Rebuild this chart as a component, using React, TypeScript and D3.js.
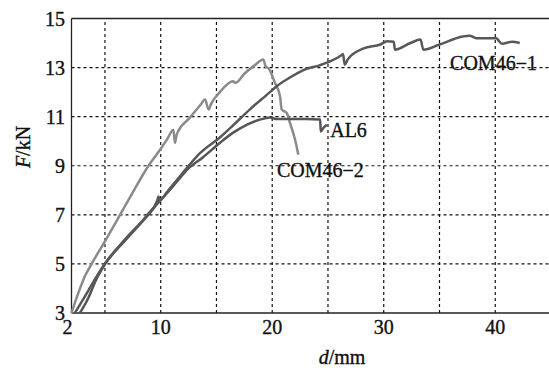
import React, { useEffect } from "react";
import * as d3 from "d3";

// [d (mm), F (kN)]
const com46_1: [number, number][] = [
  [2.3, 3.0], [3.1, 3.6], [4.0, 4.3], [5.0, 5.02], [6.9, 6.05], [8.8, 7.0],
  [9.7, 7.6], [9.8, 7.75], [9.9, 7.6], [10.6, 7.95], [11.5, 8.45], [12.6, 9.05],
  [13.5, 9.5], [15.3, 10.15], [16.5, 10.65], [18.0, 11.3], [19.8, 12.0],
  [20.4, 12.24], [21.6, 12.6], [22.8, 12.9], [24.3, 13.1], [24.9, 13.2],
  [26.2, 13.5], [26.35, 13.55], [26.5, 13.12], [26.8, 13.35], [28.2, 13.78],
  [29.7, 13.94], [30.3, 14.07], [30.9, 14.05], [31.0, 13.73], [32.4, 14.0],
  [33.3, 14.14], [33.55, 13.73], [35.0, 13.94], [37.1, 14.27], [37.7, 14.3],
  [38.3, 14.2], [40.1, 14.2], [40.3, 14.1], [40.6, 13.97], [41.5, 14.05],
  [42.2, 14.0],
];

const com46_2: [number, number][] = [
  [2.0, 3.0], [2.6, 3.8], [3.2, 4.5], [3.8, 5.0], [5.1, 6.0], [6.35, 7.0],
  [7.6, 8.0], [8.9, 9.0], [9.94, 9.65], [10.6, 10.1], [11.13, 10.47],
  [11.28, 9.93], [11.43, 10.27], [12.6, 10.95], [13.6, 11.5], [13.97, 11.7],
  [14.3, 11.29], [14.5, 11.5], [15.3, 12.0], [16.5, 12.44], [16.7, 12.38],
  [17.5, 12.75], [18.45, 13.1], [19.2, 13.33], [19.4, 13.06], [19.7, 12.95],
  [20.25, 12.37], [20.7, 11.83], [20.85, 11.29], [21.3, 11.15], [21.6, 10.74],
  [22.05, 10.06], [22.34, 9.45],
];

const al6: [number, number][] = [
  [2.75, 3.0], [3.5, 3.6], [4.2, 4.35], [5.0, 4.98], [6.9, 6.0], [8.8, 6.95],
  [9.7, 7.45], [10.6, 7.9], [11.5, 8.38], [12.4, 8.85], [13.8, 9.35],
  [15.3, 9.93], [16.5, 10.35], [17.7, 10.67], [18.9, 10.88], [19.8, 10.97],
  [20.4, 10.9], [21.5, 10.9], [23.0, 10.9], [24.3, 10.88], [24.35, 10.4],
  [24.6, 10.55], [24.9, 10.67],
];

const xTicks = [2, 10, 20, 30, 40];
const xGrid = [5, 10, 15, 20, 25, 30, 35, 40];
const yTicks = [3, 5, 7, 9, 11, 13, 15];
const yGrid = [5, 7, 9, 11, 13];

const labels = [
  { text: "COM46\u22121", d: 35.95, f: 12.9 },
  { text: "AL6", d: 25.2, f: 10.18 },
  { text: "COM46\u22122", d: 20.43, f: 8.55 },
];

const W = 549;
const H = 370;
const font = "'Liberation Serif', 'Times New Roman', serif";

export default function App() {
  useEffect(() => {
    document.body.style.margin = "0";
  }, []);

  const x = d3.scaleLinear().domain([2, 45]).range([71.5, 551]);
  const y = d3.scaleLinear().domain([3, 15]).range([313, 18.5]);
  const line = d3
    .line<[number, number]>()
    .x((p) => x(p[0]))
    .y((p) => y(p[1]))
    .curve(d3.curveMonotoneX);

  const [x0, x1] = x.range();
  const [y0, y1] = y.range();
  const textProps = { fontFamily: font, fontSize: 20, fill: "#111", stroke: "#111", strokeWidth: 0.35 };

  return (
    <svg width={W} height={H} style={{ display: "block", background: "#fff" }}>
      {/* grid */}
      {xGrid.map((v) => (
        <line key={"gx" + v} x1={x(v)} x2={x(v)} y1={y0} y2={y1}
          stroke="#111" strokeWidth={1.2} strokeDasharray="3,3" />
      ))}
      {yGrid.map((v) => (
        <line key={"gy" + v} x1={x0} x2={x1} y1={y(v)} y2={y(v)}
          stroke="#111" strokeWidth={1.2} strokeDasharray="3,3" />
      ))}
      {/* frame */}
      <line x1={x0} x2={x1} y1={y1} y2={y1} stroke="#222" strokeWidth={1.3} />
      <line x1={x0} x2={x1} y1={y0} y2={y0} stroke="#222" strokeWidth={1.3} />
      <line x1={x0} x2={x0} y1={y0} y2={y1} stroke="#222" strokeWidth={1.3} />

      {/* curves */}
      <path d={line(com46_2) ?? ""} fill="none" stroke="#8a8a8a" strokeWidth={2.5} strokeLinejoin="round" />
      <path d={line(al6) ?? ""} fill="none" stroke="#555" strokeWidth={2.5} strokeLinejoin="round" />
      <path d={line(com46_1) ?? ""} fill="none" stroke="#585858" strokeWidth={2.5} strokeLinejoin="round" />

      {/* tick labels */}
      {yTicks.map((v) => (
        <text key={"ty" + v} x={65} y={y(v)} dy="0.35em" textAnchor="end" {...textProps}>{v}</text>
      ))}
      {xTicks.map((v) => (
        <text key={"tx" + v} x={x(v) - (v === 2 ? 4 : 0)} y={334} textAnchor="middle" {...textProps}>{v}</text>
      ))}

      {/* series labels */}
      {labels.map((l) => (
        <text key={l.text} x={x(l.d)} y={y(l.f)} {...textProps}>
          {l.text}
        </text>
      ))}

      {/* axis titles */}
      <text x={342} y={364} textAnchor="middle" {...textProps}>
        <tspan fontStyle="italic">d</tspan>/mm
      </text>
      <text transform="translate(30,147) rotate(-90)" textAnchor="middle" {...textProps}>
        <tspan fontStyle="italic">F</tspan>/kN
      </text>
    </svg>
  );
}
